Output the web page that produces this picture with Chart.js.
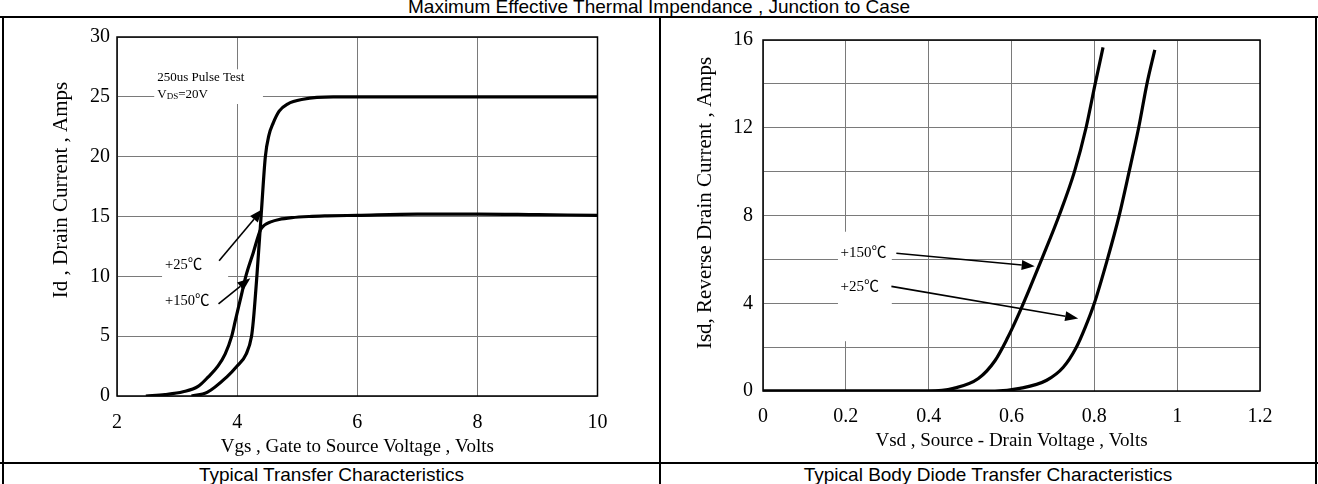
<!DOCTYPE html>
<html><head><meta charset="utf-8">
<script src="https://cdn.jsdelivr.net/npm/chart.js@4.4.1/dist/chart.umd.min.js"></script>
<style>
html,body{margin:0;padding:0;background:#fff;}
#page{position:relative;width:1318px;height:484px;overflow:hidden;background:#fff;font-family:"Liberation Sans",Arial,sans-serif;}
.ln{position:absolute;background:#000;}
.txt{position:absolute;white-space:nowrap;color:#000;font-size:19px;line-height:22px;text-align:center;}
canvas{position:absolute;}
</style></head><body>
<div id="page">
  <div class="txt" style="left:0;width:1318px;top:-4px;">Maximum Effective Thermal Impendance , Junction to Case</div>
  <div class="ln" style="left:0;top:16px;width:1318px;height:2px;"></div>
  <div class="ln" style="left:2px;top:16px;width:2px;height:468px;"></div>
  <div class="ln" style="left:1315px;top:16px;width:2px;height:468px;"></div>
  <div class="ln" style="left:659px;top:16px;width:2px;height:468px;"></div>
  <div class="ln" style="left:0;top:462px;width:1318px;height:2px;"></div>
  <canvas id="c1" width="655" height="443" style="left:4px;top:18px;"></canvas>
  <canvas id="c2" width="654" height="443" style="left:661px;top:18px;"></canvas>
  <div class="txt" style="left:4px;width:655px;top:464px;">Typical Transfer Characteristics</div>
  <div class="txt" style="left:661px;width:654px;top:464px;">Typical Body Diode Transfer Characteristics</div>
</div>
<script>
// ---------- data ----------
// Left: Typical Transfer Characteristics
const vgs25  = [3.24, 3.5, 3.83, 4.0, 4.15, 4.24, 4.27, 4.33, 4.40, 4.47, 4.53, 4.6, 4.7, 4.84, 5.1, 5.6, 6.5, 8, 10];
const id25   = [0, 0.3, 1.6, 2.5, 3.5, 5.0, 6.3, 10.1, 15.1, 20.0, 21.8, 22.8, 23.8, 24.4, 24.8, 25.0, 25.0, 25.0, 25.0];
const vgs150 = [2.48, 2.8, 3.1, 3.35, 3.52, 3.68, 3.8, 3.91, 3.97, 4.06, 4.15, 4.27, 4.39, 4.46, 4.56, 4.7, 4.91, 5.2, 5.5, 6, 7, 8, 9, 10];
const id150  = [0, 0.12, 0.35, 0.8, 1.6, 2.5, 3.5, 5.0, 6.3, 8.2, 10.1, 12.0, 13.9, 14.3, 14.55, 14.75, 14.9, 15.0, 15.05, 15.1, 15.2, 15.2, 15.15, 15.1];
const vgsTicks = [2, 4, 6, 8, 10];
const idTicks  = [0, 5, 10, 15, 20, 25, 30];

// Right: Typical Body Diode Transfer Characteristics
const vsd150 = [0, 0.40, 0.46, 0.52, 0.56, 0.59, 0.615, 0.64, 0.675, 0.715, 0.752, 0.780, 0.802, 0.821];
const isd150 = [0, 0, 0.12, 0.57, 1.38, 2.4, 3.4, 4.5, 6.1, 8.0, 10.0, 12.0, 14.0, 15.66];
const vsd25  = [0, 0.56, 0.62, 0.685, 0.725, 0.756, 0.778, 0.80, 0.83, 0.86, 0.884, 0.907, 0.927, 0.946];
const isd25  = [0, 0, 0.12, 0.49, 1.08, 1.97, 2.9, 4.0, 5.9, 8.0, 10.0, 12.0, 14.0, 15.55];
const vsdTicks   = [0, 0.2, 0.4, 0.6, 0.8, 1.0, 1.2];
const isdGrid    = [0, 2, 4, 6, 8, 10, 12, 14, 16];
const isdLabels  = [0, 4, 8, 12, 16];

// ---------- rendering ----------
const SERIF = "'Liberation Serif', 'Times New Roman', serif";
const NOTEFONT = "'Liberation Serif', 'Noto Sans CJK SC', serif";
Chart.defaults.font.family = SERIF;
Chart.defaults.color = '#000';

function pts(xs, ys) { return xs.map((x, i) => ({ x: x, y: ys[i] })); }
function fmt(v) { return String(+(+v).toFixed(2)); }

function makeAnnot(n) {
  return {
    id: 'annot',
    beforeDatasetsDraw(chart) {
      const { ctx, chartArea: a, scales: { x, y } } = chart;
      ctx.save();
      ctx.fillStyle = '#fff';
      n.boxes.forEach(b => {
        const x0 = x.getPixelForValue(b[0]), x1 = x.getPixelForValue(b[1]);
        const y0 = y.getPixelForValue(b[2]), y1 = y.getPixelForValue(b[3]);
        ctx.fillRect(x0, y0, x1 - x0, y1 - y0);
      });
      ctx.strokeStyle = '#000';
      ctx.lineWidth = 1.5;
      ctx.strokeRect(a.left, a.top, a.right - a.left, a.bottom - a.top);
      ctx.fillStyle = '#000';
      ctx.textBaseline = 'middle';
      ctx.textAlign = 'left';
      n.texts.forEach(t => {
        let px = x.getPixelForValue(t.x);
        const py = y.getPixelForValue(t.y);
        t.parts.forEach(p => {
          ctx.font = p.size + 'px ' + NOTEFONT;
          ctx.fillText(p.s, px, py + (p.dy || 0));
          px += ctx.measureText(p.s).width;
        });
      });
      ctx.restore();
    },
    afterDatasetsDraw(chart) {
      const { ctx, scales: { x, y } } = chart;
      ctx.save();
      ctx.strokeStyle = '#000';
      ctx.fillStyle = '#000';
      ctx.lineWidth = 1.6;
      n.arrows.forEach(ar => {
        const x0 = x.getPixelForValue(ar[0]), y0 = y.getPixelForValue(ar[1]);
        const x1 = x.getPixelForValue(ar[2]), y1 = y.getPixelForValue(ar[3]);
        const ang = Math.atan2(y1 - y0, x1 - x0);
        const L = 13, W = 5;
        const bx = x1 - L * Math.cos(ang), by = y1 - L * Math.sin(ang);
        ctx.beginPath(); ctx.moveTo(x0, y0); ctx.lineTo(bx, by); ctx.stroke();
        ctx.beginPath();
        ctx.moveTo(x1, y1);
        ctx.lineTo(bx + W * Math.sin(ang), by - W * Math.cos(ang));
        ctx.lineTo(bx - W * Math.sin(ang), by + W * Math.cos(ang));
        ctx.closePath(); ctx.fill();
      });
      ctx.restore();
    },
    afterDraw(chart) {
      const ctx = chart.ctx;
      ctx.save();
      ctx.translate(n.yTitle.cx, n.yTitle.cy);
      ctx.rotate(-Math.PI / 2);
      ctx.font = '21px ' + SERIF;
      ctx.fillStyle = '#000';
      ctx.textAlign = 'center';
      ctx.textBaseline = 'middle';
      ctx.fillText(n.yTitle.text, 0, 0);
      ctx.restore();
    }
  };
}

function makeChart(id, c) {
  return new Chart(document.getElementById(id), {
    type: 'line',
    data: {
      datasets: c.series.map(s => ({
        data: pts(s[0], s[1]), borderColor: '#000', borderWidth: 3.2, pointRadius: 0,
        fill: false, cubicInterpolationMode: 'monotone'
      }))
    },
    options: {
      responsive: false, animation: false, devicePixelRatio: 1,
      layout: { padding: { top: c.padTop, right: c.padRight, left: 0, bottom: 0 } },
      plugins: { legend: { display: false }, tooltip: { enabled: false } },
      scales: {
        x: {
          type: 'linear', min: c.xMin, max: c.xMax,
          afterBuildTicks: s => { s.ticks = c.xTicks.map(v => ({ value: v })); },
          afterFit: s => { s.height = c.xH; },
          grid: { color: '#7a7a7a', lineWidth: 1, drawTicks: false },
          border: { display: false },
          ticks: { font: { size: 20 }, padding: c.xPad, maxRotation: 0, autoSkip: false, callback: v => fmt(v) },
          title: { display: true, text: c.xTitle, font: { size: 19 }, padding: { top: 0, bottom: c.xTitlePad } }
        },
        y: {
          type: 'linear', min: c.yMin, max: c.yMax,
          afterBuildTicks: s => { s.ticks = c.yGrid.map(v => ({ value: v })); },
          afterFit: s => { s.width = c.yW; },
          grid: { color: '#7a7a7a', lineWidth: 1, drawTicks: false },
          border: { display: false },
          ticks: { font: { size: 20 }, padding: c.yPad, autoSkip: false,
                   callback: v => (c.yLabels.indexOf(+v) >= 0 ? fmt(v) : '') }
        }
      }
    },
    plugins: [makeAnnot(c.notes)]
  });
}

makeChart('c1', {
  series: [[vgs25, id25], [vgs150, id150]],
  xMin: 2, xMax: 10, yMin: 0, yMax: 30,
  xTicks: vgsTicks, yGrid: idTicks, yLabels: idTicks,
  padTop: 14, padRight: 61.5, xH: 65, yW: 113, yPad: 7, xPad: 15, xTitlePad: 2.6,
  xTitle: 'Vgs , Gate to Source Voltage , Volts',
  notes: {
    boxes: [[2.62, 4.43, 27.3, 24.4], [2.75, 3.85, 12.0, 6.9]],
    texts: [
      { x: 2.67, y: 26.6, parts: [{ s: '250us Pulse Test', size: 13 }] },
      { x: 2.67, y: 25.15, parts: [{ s: 'V', size: 13 }, { s: 'DS', size: 9, dy: 2 }, { s: '=20V', size: 13 }] },
      { x: 2.8, y: 10.96, parts: [{ s: '+25\u2103', size: 14.5 }] },
      { x: 2.8, y: 7.9, parts: [{ s: '+150\u2103', size: 14.5 }] }
    ],
    arrows: [[3.70, 11.3, 4.42, 15.6], [3.69, 7.7, 4.22, 9.85]],
    yTitle: { text: 'Id , Drain Current , Amps', cx: 57, cy: 172 }
  }
});

makeChart('c2', {
  series: [[vsd150, isd150], [vsd25, isd25]],
  xMin: 0, xMax: 1.2, yMin: 0, yMax: 16,
  xTicks: vsdTicks, yGrid: isdGrid, yLabels: isdLabels,
  padTop: 14, padRight: 55, xH: 70, yW: 102, yPad: 10, xPad: 14, xTitlePad: 8.6,
  xTitle: 'Vsd , Source - Drain Voltage , Volts',
  notes: {
    boxes: [[0.181, 0.311, 7.26, 2.27]],
    texts: [
      { x: 0.187, y: 6.28, parts: [{ s: '+150\u2103', size: 15 }] },
      { x: 0.187, y: 4.72, parts: [{ s: '+25\u2103', size: 15 }] }
    ],
    arrows: [[0.322, 6.28, 0.656, 5.69], [0.310, 4.77, 0.761, 3.31]],
    yTitle: { text: 'Isd, Reverse Drain Current , Amps', cx: 44, cy: 185 }
  }
});
</script>
</body></html>
